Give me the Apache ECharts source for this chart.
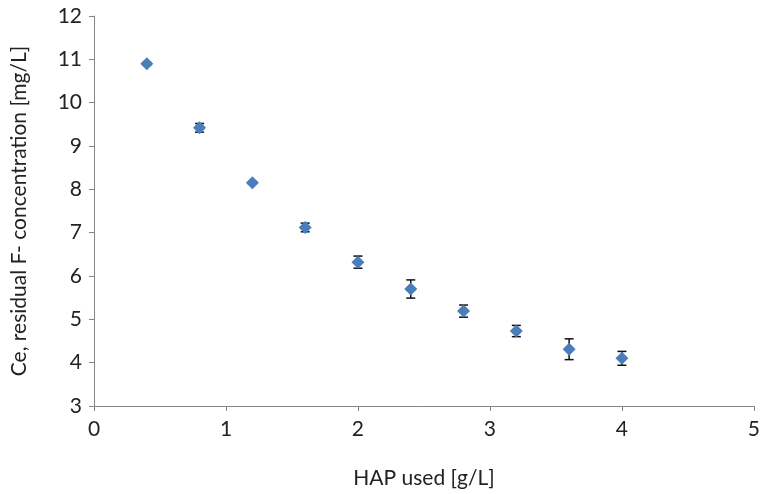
<!DOCTYPE html>
<html><head><meta charset="utf-8">
<script src="https://cdn.jsdelivr.net/npm/echarts@6/dist/echarts.min.js"></script>
<style>html,body{margin:0;padding:0;background:#fff}#c{width:763px;height:494px}</style>
</head><body><div id="c"></div>
<script>
const hapUsed = [0.4, 0.8, 1.2, 1.6, 2.0, 2.4, 2.8, 3.2, 3.6, 4.0];
const residualF = [10.9, 9.42, 8.15, 7.12, 6.32, 5.70, 5.19, 4.73, 4.31, 4.10];
const errorF = [0.03, 0.1, 0.03, 0.1, 0.14, 0.21, 0.14, 0.13, 0.24, 0.16];
const xTicks = [0, 1, 2, 3, 4, 5];
const yTicks = [3, 4, 5, 6, 7, 8, 9, 10, 11, 12];

const font = 'Lato, "Open Sans", sans-serif';
const pts = hapUsed.map((x, i) => [x, residualF[i]]);
const errs = hapUsed.map((x, i) => [x, residualF[i] - errorF[i], residualF[i] + errorF[i]]);

const chart = echarts.init(document.getElementById('c'), null, {renderer: 'canvas'});
chart.setOption({
  animation: false,
  grid: {left: 94, right: 6, top: 16, bottom: 87},
  xAxis: {
    type: 'value', min: xTicks[0], max: xTicks[xTicks.length - 1], interval: 1,
    name: 'HAP used [g/L]', nameLocation: 'middle', nameGap: 62,
    nameTextStyle: {fontFamily: font, fontSize: 21, color: '#222'},
    axisLine: {lineStyle: {color: '#868686', width: 1}},
    axisTick: {show: true, length: 5, lineStyle: {color: '#868686'}},
    axisLabel: {fontFamily: font, fontSize: 21, color: '#222', margin: 13},
    splitLine: {show: false}
  },
  yAxis: {
    type: 'value', min: yTicks[0], max: yTicks[yTicks.length - 1], interval: 1,
    name: 'Ce, residual F- concentration [mg/L]', nameLocation: 'middle', nameGap: 64, nameRotate: 90,
    nameTextStyle: {fontFamily: font, fontSize: 21, color: '#222'},
    axisLine: {show: true, lineStyle: {color: '#868686', width: 1}},
    axisTick: {show: true, length: 5, lineStyle: {color: '#868686'}},
    axisLabel: {fontFamily: font, fontSize: 21, color: '#222', margin: 12},
    splitLine: {show: false}
  },
  series: [
    {
      type: 'custom',
      data: errs,
      z: 2,
      renderItem: function (params, api) {
        const x = api.value(0);
        const lo = api.coord([x, api.value(1)]);
        const hi = api.coord([x, api.value(2)]);
        const cw = 4.5;
        const st = {stroke: '#111', lineWidth: 1.5};
        return {type: 'group', children: [
          {type: 'line', shape: {x1: lo[0], y1: lo[1], x2: hi[0], y2: hi[1]}, style: st},
          {type: 'line', shape: {x1: lo[0] - cw, y1: lo[1], x2: lo[0] + cw, y2: lo[1]}, style: st},
          {type: 'line', shape: {x1: hi[0] - cw, y1: hi[1], x2: hi[0] + cw, y2: hi[1]}, style: st}
        ]};
      }
    },
    {
      type: 'scatter',
      data: pts,
      z: 5,
      symbol: 'diamond',
      symbolSize: [13, 13],
      itemStyle: {color: '#4A7EBB', opacity: 1}
    }
  ]
});
</script></body></html>
